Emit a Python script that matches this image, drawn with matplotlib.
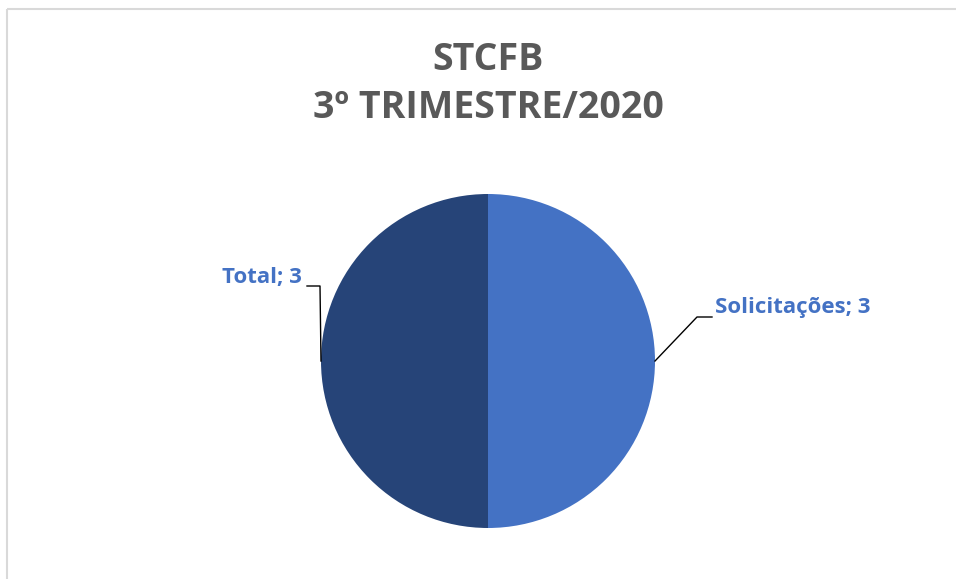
import numpy as np
import matplotlib.pyplot as plt

plt.rcParams['font.family'] = ['Open Sans', 'DejaVu Sans']

# data
labels = ["Solicitações", "Total"]
values = [3, 3]
colors = ["#4472C4", "#264478"]
title_lines = ["STCFB", "3º TRIMESTRE/2020"]

W, H = 956, 579
fig = plt.figure(figsize=(W / 100, H / 100), dpi=100)
ax = fig.add_axes([0, 0, 1, 1])

cx, cy, r = 488, H - 361, 167
wedges, _ = ax.pie(values, colors=colors, startangle=90, counterclock=False,
                   center=(cx, cy), radius=r, frame=True,
                   wedgeprops=dict(linewidth=0))
ax.set_xlim(0, W)
ax.set_ylim(0, H)
ax.set_aspect("equal")
ax.axis("off")

# light frame (top and left edges visible)
ax.plot([7, W], [H - 9, H - 9], color="#D9D9D9", lw=1.5, solid_capstyle="butt")
ax.plot([7, 7], [H - 9, 0], color="#D9D9D9", lw=1.5, solid_capstyle="butt")

# titles
ax.text(cx, H - 60, title_lines[0], ha="center", va="center",
        fontsize=27, fontweight="bold", color="#595959")
ax.text(cx, H - 108, title_lines[1], ha="center", va="center",
        fontsize=27, fontweight="bold", color="#595959")

# labels with leader lines
for w, lab, val in zip(wedges, labels, values):
    ang = np.deg2rad((w.theta1 + w.theta2) / 2)
    ex = cx + r * np.cos(ang)
    ey = cy + r * np.sin(ang)
    txt = f"{lab}; {val}"
    if np.cos(ang) > 0:
        pts = [(ex, ey), (ex + 42, ey + 44), (ex + 57, ey + 44)]
        ax.plot(*zip(*pts), color="black", lw=1)
        ax.text(ex + 60, ey + 53, txt, ha="left", va="center",
                fontsize=16, fontweight="bold", color="#4472C4")
    else:
        pts = [(ex, ey), (ex - 1, ey + 75), (ex - 14, ey + 75)]
        ax.plot(*zip(*pts), color="black", lw=1)
        ax.text(ex - 19, ey + 83, txt, ha="right", va="center",
                fontsize=16, fontweight="bold", color="#4472C4")

fig.savefig("out.png", dpi=100, facecolor="white")
